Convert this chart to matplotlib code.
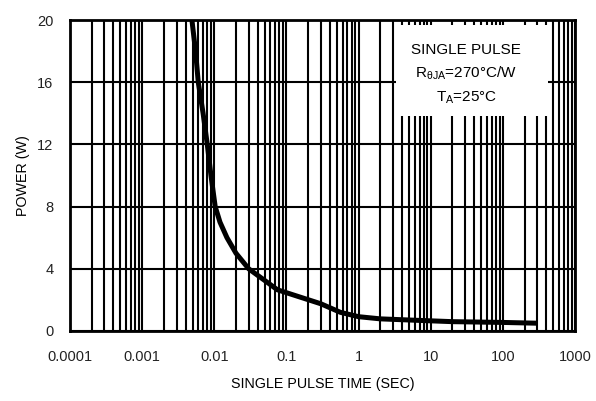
import matplotlib
matplotlib.use("Agg")
import matplotlib.pyplot as plt
from matplotlib.patches import Rectangle

plt.rcParams["font.family"] = ["Liberation Sans", "DejaVu Sans"]
plt.rcParams["mathtext.fontset"] = "custom"
plt.rcParams["mathtext.rm"] = "Liberation Sans"
plt.rcParams["mathtext.it"] = "Liberation Sans"

# single pulse power curve
pulse_time = [0.0049, 0.0055, 0.006, 0.007, 0.008, 0.009, 0.0103, 0.012,
              0.015, 0.02, 0.03, 0.05, 0.075, 0.15, 0.3, 0.56, 1.0, 2.0,
              7.0, 20, 100, 300]
power = [20, 18, 16, 14, 12, 10, 8, 7, 6, 5, 4, 3.25, 2.65, 2.2, 1.75,
         1.2, 0.92, 0.78, 0.68, 0.6, 0.55, 0.5]

x_ticks = [1e-4, 1e-3, 1e-2, 1e-1, 1, 10, 100, 1000]
x_labels = ["0.0001", "0.001", "0.01", "0.1", "1", "10", "100", "1000"]
y_ticks = [0, 4, 8, 12, 16, 20]

fig = plt.figure(figsize=(5.96, 4.01), dpi=100)
ax = fig.add_axes([0.1174, 0.1746, 0.8474, 0.7754])

ax.semilogx(pulse_time, power, color="black", lw=3.6,
            solid_capstyle="butt", zorder=3)

ax.set_xlim(1e-4, 1e3)
ax.set_ylim(0, 20)
ax.set_xticks(x_ticks)
ax.set_xticklabels(x_labels)
ax.set_yticks(y_ticks)

ax.grid(True, which="both", axis="x", color="black", lw=1.5)
ax.grid(True, which="major", axis="y", color="black", lw=1.5)
ax.tick_params(which="both", length=0)
ax.tick_params(axis="x", pad=14, labelsize=10.5, colors="#222222")
ax.tick_params(axis="y", pad=12, labelsize=10.5, colors="#222222")
for s in ax.spines.values():
    s.set_linewidth(2)

ax.set_xlabel("SINGLE PULSE TIME (SEC)", fontsize=10.3, labelpad=9)
ax.set_ylabel("POWER (W)", fontsize=10.3, labelpad=5)

# note box
ax.add_patch(Rectangle((0.646, 0.69), 0.3, 0.295, transform=ax.transAxes,
                       facecolor="white", edgecolor="none", zorder=4))
ax.text(0.785, 0.905, "SINGLE PULSE", transform=ax.transAxes,
        ha="center", va="center", fontsize=11, zorder=5)
ax.text(0.785, 0.83, r"R$_{\mathrm{\theta JA}}$=270°C/W", transform=ax.transAxes,
        ha="center", va="center", fontsize=11, zorder=5)
ax.text(0.785, 0.75, r"T$_{\mathrm{A}}$=25°C", transform=ax.transAxes,
        ha="center", va="center", fontsize=11, zorder=5)

fig.savefig("out.png", dpi=100)
